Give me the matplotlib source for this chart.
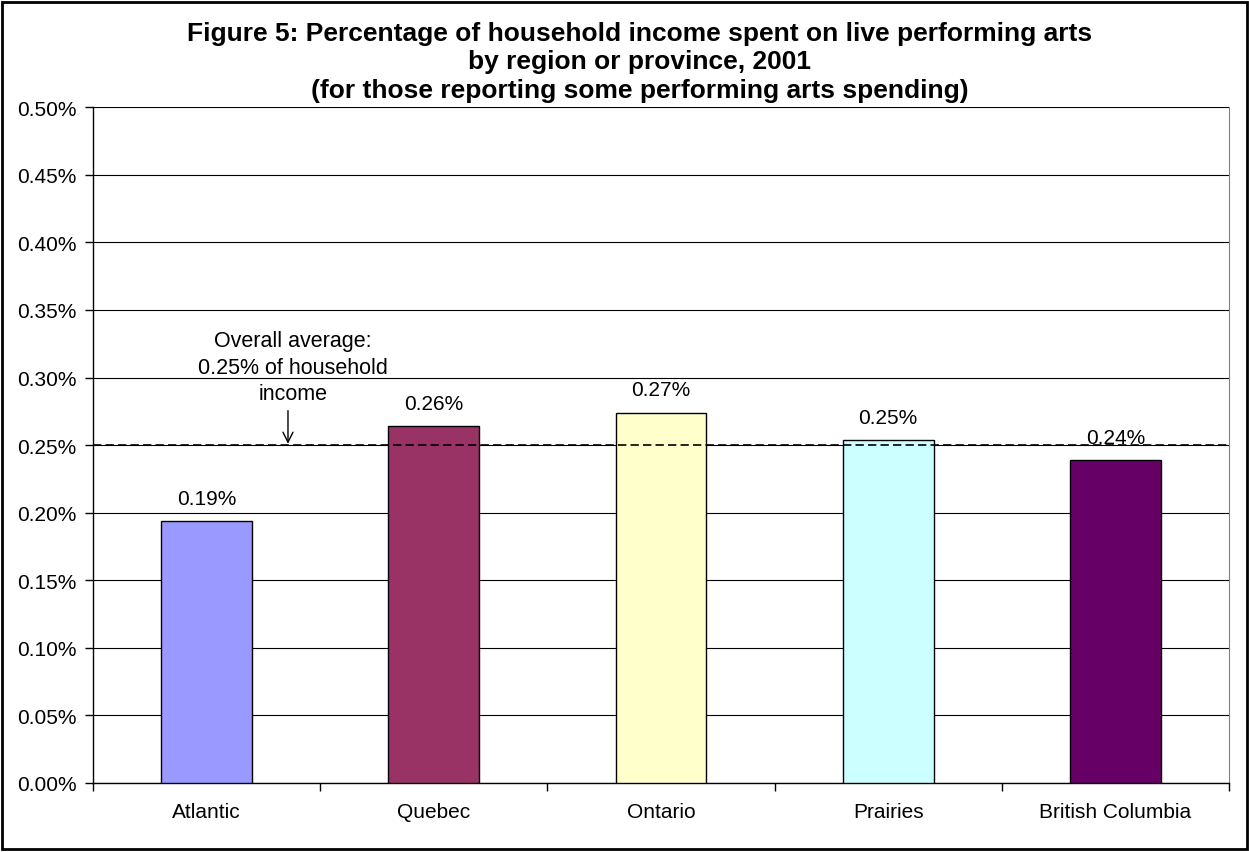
import numpy as np
import matplotlib
matplotlib.use('Agg')
import matplotlib.pyplot as plt
from matplotlib.patches import Rectangle
from matplotlib.ticker import FuncFormatter, FixedLocator

plt.rcParams['font.family'] = ['Liberation Sans', 'DejaVu Sans']

regions = ['Atlantic', 'Quebec', 'Ontario', 'Prairies', 'British Columbia']
share = [0.194, 0.264, 0.274, 0.254, 0.239]   # % of household income
bar_colors = ['#9999FF', '#993366', '#FFFFCC', '#CCFFFF', '#660066']
overall_avg = 0.25

fig = plt.figure(figsize=(12.49, 8.53), dpi=100)
ax = fig.add_axes([0.0745, 0.0809, 0.9095, 0.7922])

x = np.arange(len(regions))
bars = ax.bar(x, share, width=0.4, color=bar_colors, edgecolor='black', linewidth=1.0, zorder=3)

for xi, v in zip(x, share):
    ax.annotate(f'{v:.2f}%', (xi, v), xytext=(0, 9.5), textcoords='offset points',
                ha='center', va='bottom', fontsize=15)

# overall average reference line
ax.axhline(overall_avg, color='black', linestyle=(0, (5, 2.5)), linewidth=1.2, zorder=4)
ax.text(0.38, 0.2805, 'Overall average:\n0.25% of household\nincome',
        ha='center', va='bottom', fontsize=15.5, linespacing=1.33)
ax.annotate('', xy=(0.358, overall_avg + 0.001), xytext=(0.358, 0.2755),
            arrowprops=dict(arrowstyle='->', color='black', lw=1.0, shrinkA=0, shrinkB=0,
                            mutation_scale=18))

ax.set_xlim(-0.5, len(regions) - 0.5)
ax.set_ylim(0, 0.5)
ax.set_yticks(np.arange(0, 0.501, 0.05))
ax.yaxis.set_major_formatter(FuncFormatter(lambda v, p: f'{v:.2f}%'))
ax.grid(axis='y', color='black', linewidth=0.8, zorder=0)

ax.set_xticks(x)
ax.set_xticklabels(regions)
ax.xaxis.set_minor_locator(FixedLocator(np.arange(-0.5, len(regions), 1.0)))
ax.tick_params(axis='x', which='major', length=0, pad=14, labelsize=15)
ax.tick_params(axis='x', which='minor', length=6, direction='out', width=1.0)
ax.tick_params(axis='y', length=6, direction='out', width=1.0, pad=6, labelsize=15)

ax.spines['top'].set_visible(False)
ax.spines['right'].set_color('#808080')
ax.spines['left'].set_linewidth(1.0)
ax.spines['bottom'].set_linewidth(1.0)

fig.text(0.512, 0.974, 'Figure 5: Percentage of household income spent on live performing arts\n'
         'by region or province, 2001\n(for those reporting some performing arts spending)',
         ha='center', va='top', fontsize=19, fontweight='bold', linespacing=1.22)

# outer chart frame
fig.patches.append(Rectangle((0.002, 0.003), 0.996, 0.994, transform=fig.transFigure,
                             fill=False, edgecolor='black', linewidth=2))

fig.savefig('out.png', dpi=100)
